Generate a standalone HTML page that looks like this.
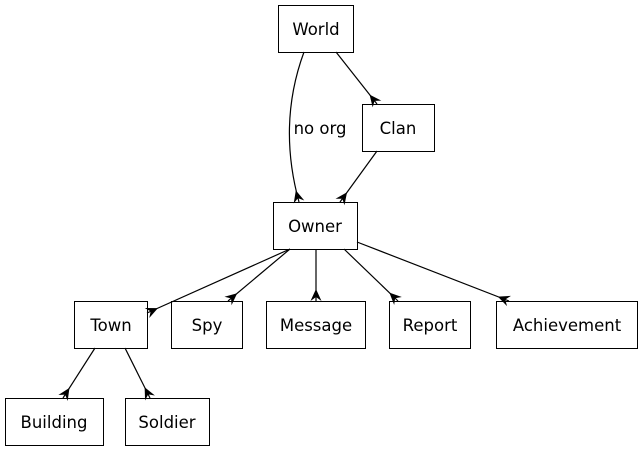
<!DOCTYPE html>
<html><head><style>
body{margin:0;background:#fff}
svg text{font-family:"DejaVu Sans","Liberation Sans",sans-serif;font-size:16.5px;fill:#000}
</style></head><body>
<svg width="643" height="453" viewBox="0 0 643 453" xmlns="http://www.w3.org/2000/svg">
<defs>
<marker id="c" markerWidth="14" markerHeight="14" refX="12" refY="6" orient="auto" markerUnits="userSpaceOnUse">
<path d="M0,6 L12,0.5 L8,6 L12,11.5 Z" fill="#000"/>
</marker>
</defs>
<g fill="#fff" stroke="#000" stroke-width="1">
<rect x="278.5" y="5.5" width="75" height="47"/>
<rect x="362.5" y="104.5" width="72" height="47"/>
<rect x="273.5" y="202.5" width="84" height="47"/>
<rect x="74.5" y="301.5" width="73" height="47"/>
<rect x="171.5" y="301.5" width="71" height="47"/>
<rect x="266.5" y="301.5" width="99" height="47"/>
<rect x="389.5" y="301.5" width="81" height="47"/>
<rect x="496.5" y="301.5" width="141" height="47"/>
<rect x="5.5" y="398.5" width="98" height="47"/>
<rect x="125.5" y="398.5" width="84" height="47"/>
</g>
<g fill="none" stroke="#000" stroke-width="1.2" marker-end="url(#c)">
<path d="M304,52 C290,90 282,140 299,202"/>
<path d="M336,52 L377,104"/>
<path d="M377,151 L340,202"/>
<path d="M290,249 L147,313"/>
<path d="M290,249 L228,301"/>
<path d="M316,249 L316,301"/>
<path d="M344,249 L398,301"/>
<path d="M357,242 L509,301"/>
<path d="M95,348 L63,398"/>
<path d="M125,348 L150,398"/>
</g>
<g text-anchor="middle">
<text x="316" y="35">World</text>
<text x="398" y="134">Clan</text>
<text x="320" y="134">no org</text>
<text x="315" y="232">Owner</text>
<text x="111" y="331">Town</text>
<text x="207" y="331">Spy</text>
<text x="316" y="331">Message</text>
<text x="430" y="331">Report</text>
<text x="567" y="331">Achievement</text>
<text x="54" y="428">Building</text>
<text x="167" y="428">Soldier</text>
</g>
</svg>
</body></html>
